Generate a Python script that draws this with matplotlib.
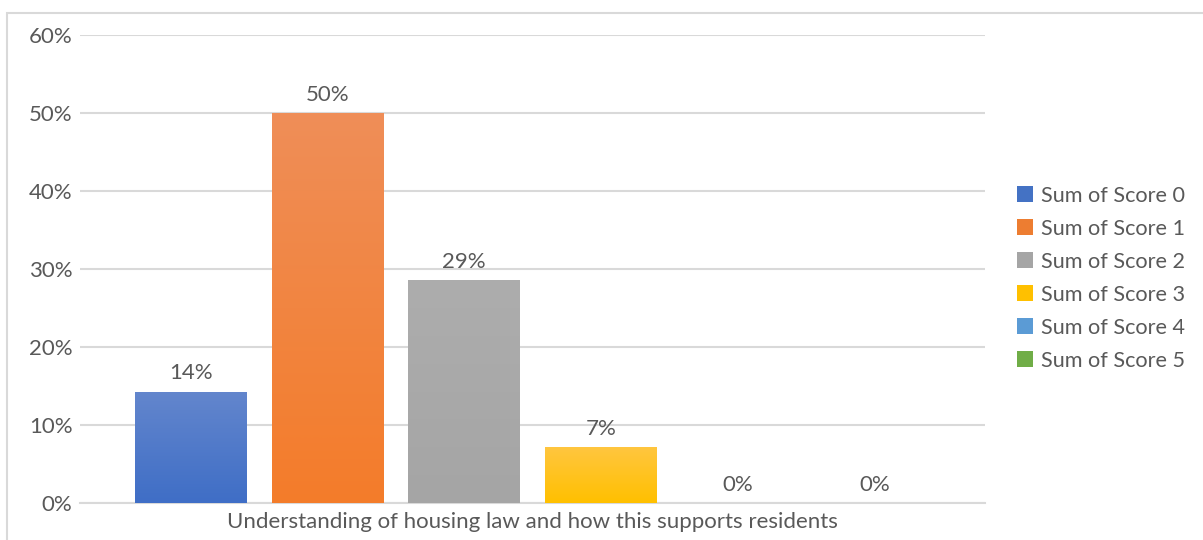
import numpy as np
import matplotlib.pyplot as plt
from matplotlib.patches import Rectangle, Patch
from matplotlib.colors import LinearSegmentedColormap

plt.rcParams['font.family'] = ['Lato', 'DejaVu Sans']

series = ['Sum of Score 0', 'Sum of Score 1', 'Sum of Score 2',
          'Sum of Score 3', 'Sum of Score 4', 'Sum of Score 5']
values = [1 / 7, 0.5, 2 / 7, 1 / 14, 0.0, 0.0]
category = 'Understanding of housing law and how this supports residents'

# bottom / top colours of each bar's gradient
base_colors = ['#4472C4', '#ED7D31', '#A5A5A5', '#FFC000', '#5B9BD5', '#70AD47']
bottom_colors = ['#3F6EC6', '#F47C2A', '#A5A5A5', '#FFC000', '#5B9BD5', '#70AD47']
top_colors = ['#6386CD', '#EF8E58', '#ADADAD', '#FFC63F', '#74AADB', '#85B961']

text_color = '#595959'
grid_color = '#D9D9D9'
fs = 16

fig = plt.figure(figsize=(12.03, 5.40), dpi=100)
ax = fig.add_axes([0.0665, 0.0685, 0.7523, 0.8665])

x = np.arange(len(values))
width = 0.818

grad = np.linspace(0, 1, 256).reshape(-1, 1)
for i, v in enumerate(values):
    if v > 0:
        rect = ax.bar(x[i], v, width, color='none', edgecolor='none', zorder=3)[0]
        cmap = LinearSegmentedColormap.from_list('g%d' % i, [bottom_colors[i], top_colors[i]])
        im = ax.imshow(grad, cmap=cmap, aspect='auto', origin='lower',
                       extent=(x[i] - width / 2, x[i] + width / 2, 0, v), zorder=3)
        im.set_clip_path(rect)
    ax.annotate(f'{v:.0%}', (x[i], v), xytext=(0, 6), textcoords='offset points',
                ha='center', va='bottom', fontsize=fs, color=text_color)

ax.set_xlim(-0.81, 5.81)
ax.set_ylim(0, 0.6)
ax.set_yticks(np.arange(0, 0.61, 0.1))
ax.set_yticklabels([f'{t:.0%}' for t in np.arange(0, 0.61, 0.1)])
ax.set_xticks([2.5])
ax.set_xticklabels([category])
ax.tick_params(axis='both', length=0, labelsize=fs, labelcolor=text_color)
ax.tick_params(axis='y', pad=5.5)
ax.tick_params(axis='x', pad=6.5)

ax.grid(axis='y', color=grid_color, linewidth=1.5, zorder=0)
ax.set_axisbelow(True)
for side in ['top', 'right', 'left']:
    ax.spines[side].set_visible(False)
ax.spines['bottom'].set_color(grid_color)
ax.spines['bottom'].set_linewidth(1.5)

handles = [Patch(facecolor=c, edgecolor='none') for c in base_colors]
fig.legend(handles, series, loc='center left', bbox_to_anchor=(0.845, 0.485),
           frameon=False, fontsize=15.6, labelcolor=text_color, borderpad=0,
           borderaxespad=0, handlelength=0.74, handleheight=0.74,
           handletextpad=0.4, labelspacing=0.6)

# chart area border
fig.add_artist(Rectangle((7 / 1203, -0.2), 1.2, 1.2 - 12.5 / 540, transform=fig.transFigure,
                         fill=False, edgecolor=grid_color, linewidth=1.5))

fig.savefig('out.png', dpi=100, facecolor='white')
